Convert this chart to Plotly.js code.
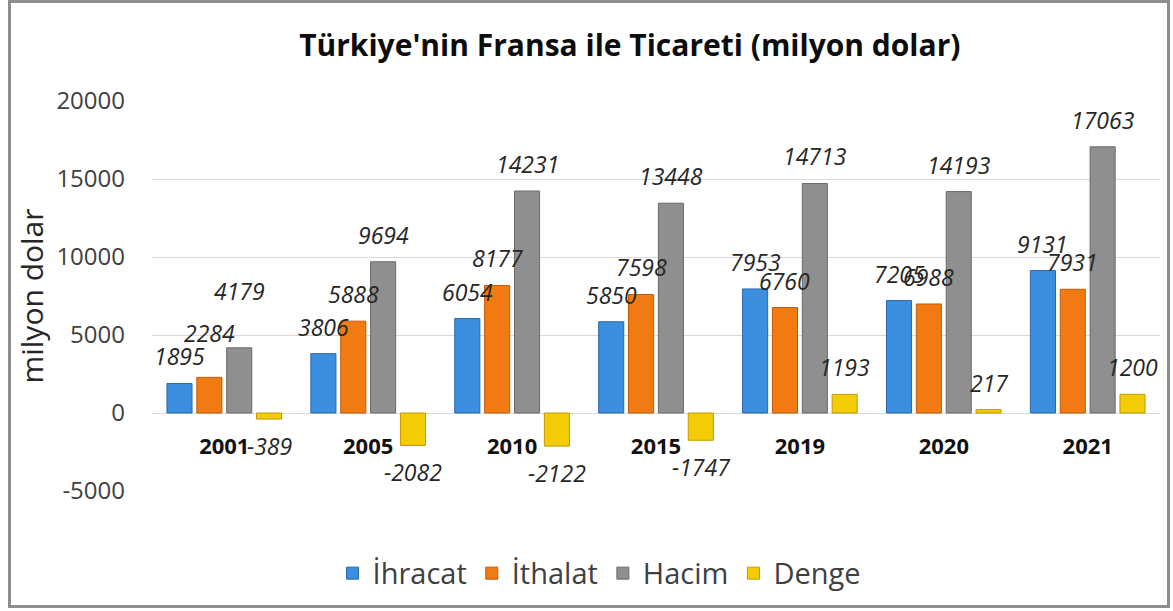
<!DOCTYPE html>
<html>
<head>
<meta charset="utf-8">
<script src="https://cdn.plot.ly/plotly-3.0.1.min.js"></script>
<style>
  html, body { margin: 0; padding: 0; background: #ffffff; }
  #wrap { position: relative; width: 1173px; height: 611px; }
  #frame { position: absolute; left: 8px; top: 0px; width: 1162px; height: 608px;
           border: 3px solid #8e8e8e; box-sizing: border-box; pointer-events: none; z-index: 5; }
  #chart { position: absolute; left: 0; top: 0; width: 1173px; height: 611px; }
</style>
</head>
<body>
<div id="wrap">
  <div id="chart"></div>
  <div id="frame"></div>
</div>
<script>
// ---- data ----
const years   = ['2001', '2005', '2010', '2015', '2019', '2020', '2021'];
const ihracat = [1895, 3806, 6054, 5850, 7953, 7205, 9131];
const ithalat = [2284, 5888, 8177, 7598, 6760, 6988, 7931];
const hacim   = [4179, 9694, 14231, 13448, 14713, 14193, 17063];
const denge   = [-389, -2082, -2122, -1747, 1193, 217, 1200];
const seriesNames = ['İhracat', 'İthalat', 'Hacim', 'Denge'];
const yTicks = [-5000, 0, 5000, 10000, 15000, 20000];

// ---- style ----
const seriesValues = [ihracat, ithalat, hacim, denge];
const fillColors = ['#3b8fde', '#f17a12', '#8f8f8f', '#f3cc05'];
const edgeColors = ['#2767ad', '#c35a05', '#6a6a6a', '#c09b00'];
const BARGAP = 0.17, GROUPGAP = 0.16;
const LABEL_OFFSET = 27;            // px between bar end and label centre
const labelNudge = {'1-0': 17, '2-0': 30}; // extra lift for a few labels (series-category)
const FONT = 'Open Sans, Noto Sans, DejaVu Sans, sans-serif';

const traces = seriesValues.map((vals, k) => ({
  type: 'bar',
  name: seriesNames[k],
  x: years,
  y: vals,
  marker: { color: fillColors[k], line: { color: edgeColors[k], width: 1 } },
  hoverinfo: 'x+y+name'
}));

// data labels, aligned with each grouped bar through the category axis
const nSeries = seriesValues.length;
const slot = (1 - BARGAP) / nSeries;
const annotations = [];
seriesValues.forEach((vals, k) => {
  const dx = -(1 - BARGAP) / 2 + (k + 0.5) * slot;
  vals.forEach((v, i) => {
    const extra = labelNudge[k + '-' + i] || 0;
    annotations.push({
      xref: 'x', yref: 'y',
      x: i + dx, y: v,
      text: String(v),
      showarrow: false,
      xanchor: 'center', yanchor: 'middle',
      yshift: v >= 0 ? LABEL_OFFSET + extra : -LABEL_OFFSET - extra,
      font: { family: FONT, size: 23, color: '#262626', style: 'italic' }
    });
  });
});

const layout = {
  width: 1173, height: 611,
  margin: { l: 152, r: 13, t: 101, b: 117 },
  paper_bgcolor: 'rgba(0,0,0,0)',
  plot_bgcolor: 'rgba(0,0,0,0)',
  barmode: 'group',
  bargap: BARGAP,
  bargroupgap: GROUPGAP,
  title: {
    text: "<b>Türkiye'nin Fransa ile Ticareti (milyon dolar)</b>",
    font: { family: FONT, size: 30, color: '#0d0d0d' },
    xref: 'paper', x: 0.474, xanchor: 'center',
    yref: 'container', y: 0.926, yanchor: 'middle'
  },
  xaxis: {
    type: 'category',
    anchor: 'free', position: 0.2,
    showline: false, showgrid: false, zeroline: false,
    ticks: '', ticklabelstandoff: 18,
    tickfont: { family: FONT, size: 22, color: '#111111', weight: 'bold' },
    fixedrange: true
  },
  yaxis: {
    range: [-5000, 20000],
    tickvals: yTicks,
    ticktext: yTicks.map(String),
    showgrid: true, gridcolor: '#d9d9d9', gridwidth: 1,
    zeroline: true, zerolinecolor: '#d9d9d9', zerolinewidth: 1,
    showline: false, ticks: '', ticklabelstandoff: 26,
    tickfont: { family: FONT, size: 24, color: '#404040' },
    title: { text: 'milyon dolar', standoff: 3, font: { family: FONT, size: 30, color: '#262626' } },
    automargin: false,
    fixedrange: true
  },
  legend: {
    orientation: 'h',
    x: 0.444, xanchor: 'center',
    y: -0.211, yanchor: 'middle',
    font: { family: FONT, size: 29, color: '#404040' },
    traceorder: 'normal',
    itemclick: false
  },
  annotations: annotations,
  showlegend: true
};

Plotly.newPlot('chart', traces, layout, { displayModeBar: false, staticPlot: true });
</script>
</body>
</html>
